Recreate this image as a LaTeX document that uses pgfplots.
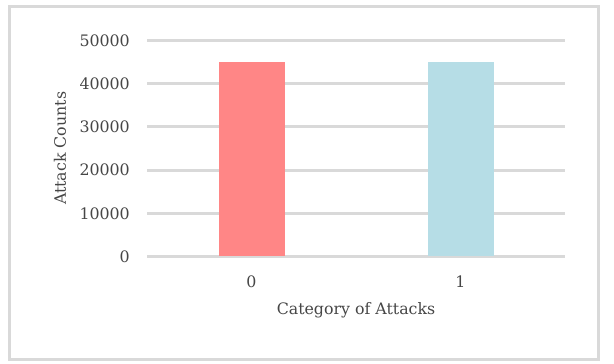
\documentclass[border=0pt]{standalone}
\usepackage{pgfplots}
\pgfplotsset{compat=1.18}
\usepackage{fontspec}
\setmainfont{DejaVu Serif}
\definecolor{txt}{HTML}{464646}
\definecolor{gridc}{HTML}{D9D9D9}
\definecolor{barA}{HTML}{FF8686}
\definecolor{barB}{HTML}{B6DDE6}
\begin{document}
\begin{tikzpicture}
\path[use as bounding box] (0pt,0pt) rectangle (614pt,364pt);
\draw[gridc, line width=3pt] (9pt,4.5pt) rectangle (598pt,357pt);
\begin{axis}[
  at={(147pt,107.5pt)}, anchor=south west,
  scale only axis, width=418pt, height=216.2pt,
  xmin=-0.5, xmax=1.5, ymin=0, ymax=50000,
  axis line style={draw=none},
  major tick length=0pt,
  xtick={0,1}, xticklabels={0,1},
  ytick={0,10000,20000,30000,40000,50000},
  scaled y ticks=false,
  ymajorgrids, grid style={gridc, line width=3pt},
  /pgf/number format/1000 sep={},
  /pgf/number format/assume math mode=true,
  tick label style={font=\fontsize{15.8}{18}\selectfont, text=txt},
  yticklabel style={inner sep=0pt, anchor=east, xshift=-17pt},
  xticklabel style={inner sep=0pt, anchor=north, yshift=-19pt},
  label style={font=\fontsize{15.8}{18}\selectfont, text=txt},
  xlabel={Category of Attacks},
  ylabel={Attack Counts},
  xlabel style={at={(axis description cs:0.5,-0.25)}, anchor=center},
  ylabel style={at={(axis description cs:-0.208,0.5)}, anchor=center},
]
\addplot[ybar, bar width=66pt, bar shift=0pt, fill=barA, draw=none] coordinates {(0,45000)};
\addplot[ybar, bar width=66pt, bar shift=0pt, fill=barB, draw=none] coordinates {(1,45000)};
\end{axis}
\end{tikzpicture}
\end{document}
